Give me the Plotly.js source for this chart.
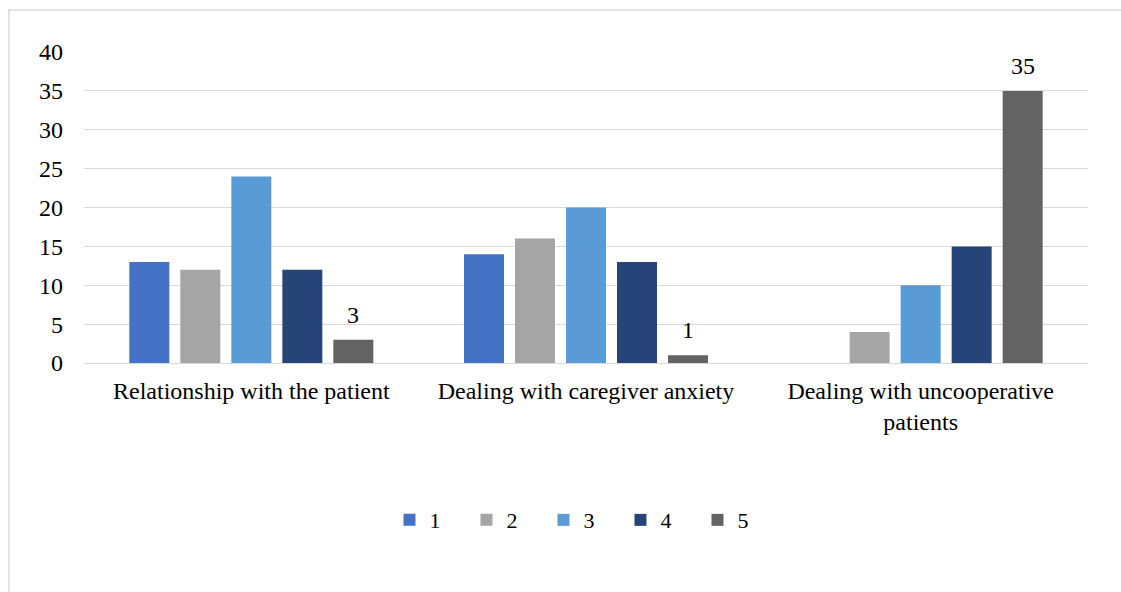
<!DOCTYPE html>
<html><head><meta charset="utf-8">
<script src="https://cdn.plot.ly/plotly-3.0.1.min.js"></script>
<style>html,body{margin:0;padding:0;background:#fff;}#chart{width:1121px;height:592px;}</style>
</head><body><div id="chart"></div>
<script>
const categories = ["Relationship with the patient", "Dealing with caregiver anxiety", "Dealing with uncooperative<br>patients"];
const seriesNames = ["1", "2", "3", "4", "5"];
const s1 = [13, 14, 0];
const s2 = [12, 16, 4];
const s3 = [24, 20, 10];
const s4 = [12, 13, 15];
const s5 = [3, 1, 35];
const colors = ["#4472C4", "#A5A5A5", "#5B9BD5", "#264478", "#636363"];
const allSeries = [s1, s2, s3, s4, s5];

const FONT = 'Liberation Serif, Times New Roman, serif';
const plotW = 1004;
const bargap = 0.238, bargroupgap = 0.216;
const catW = plotW / categories.length;
const slotW = catW * (1 - bargap) / allSeries.length;

const traces = allSeries.map((vals, i) => ({
  type: 'bar', name: seriesNames[i], x: categories, y: vals,
  marker: {color: colors[i]}, hoverinfo: 'none'
}));

// data labels for series 5, placed at the bar value through the axes
const labelSeries = 4;
const annotations = s5.map((v, j) => ({
  x: categories[j], y: v, xref: 'x', yref: 'y', text: String(v), showarrow: false,
  yanchor: 'bottom', yshift: 10, xshift: (labelSeries - 2) * slotW,
  font: {family: FONT, size: 24, color: '#000'}
}));

const layout = {
  width: 1121, height: 592,
  margin: {l: 84, r: 33, t: 52, b: 229},
  paper_bgcolor: '#fff', plot_bgcolor: '#fff',
  font: {family: FONT, size: 24, color: '#000'},
  barmode: 'group', bargap: bargap, bargroupgap: bargroupgap,
  showlegend: true,
  legend: {orientation: 'h', x: 0.496, xanchor: 'center', y: -0.505, yanchor: 'middle',
           font: {size: 22}, itemwidth: 30, entrywidth: 32, entrywidthmode: 'pixels', itemclick: false},
  xaxis: {showgrid: false, showline: false, ticks: '', zeroline: false, tickfont: {size: 24},
          ticklabelstandoff: 11},
  yaxis: {range: [0, 40], dtick: 5, showgrid: true, gridcolor: '#d9d9d9', gridwidth: 1,
          zeroline: true, zerolinecolor: '#d9d9d9', zerolinewidth: 1, showline: false,
          ticks: '', tickfont: {size: 24}, ticklabelstandoff: 20, fixedrange: true},
  annotations: annotations,
  shapes: [{type: 'rect', xref: 'paper', yref: 'paper',
            x0: (9 - 84) / 1004, x1: (1125 - 84) / 1004,
            y0: (363 - 600) / 311, y1: (363 - 10) / 311,
            line: {color: '#d9d9d9', width: 1.5}, fillcolor: 'rgba(0,0,0,0)', layer: 'below'}]
};

Plotly.newPlot('chart', traces, layout, {staticPlot: true, displayModeBar: false});
</script>
</body></html>
